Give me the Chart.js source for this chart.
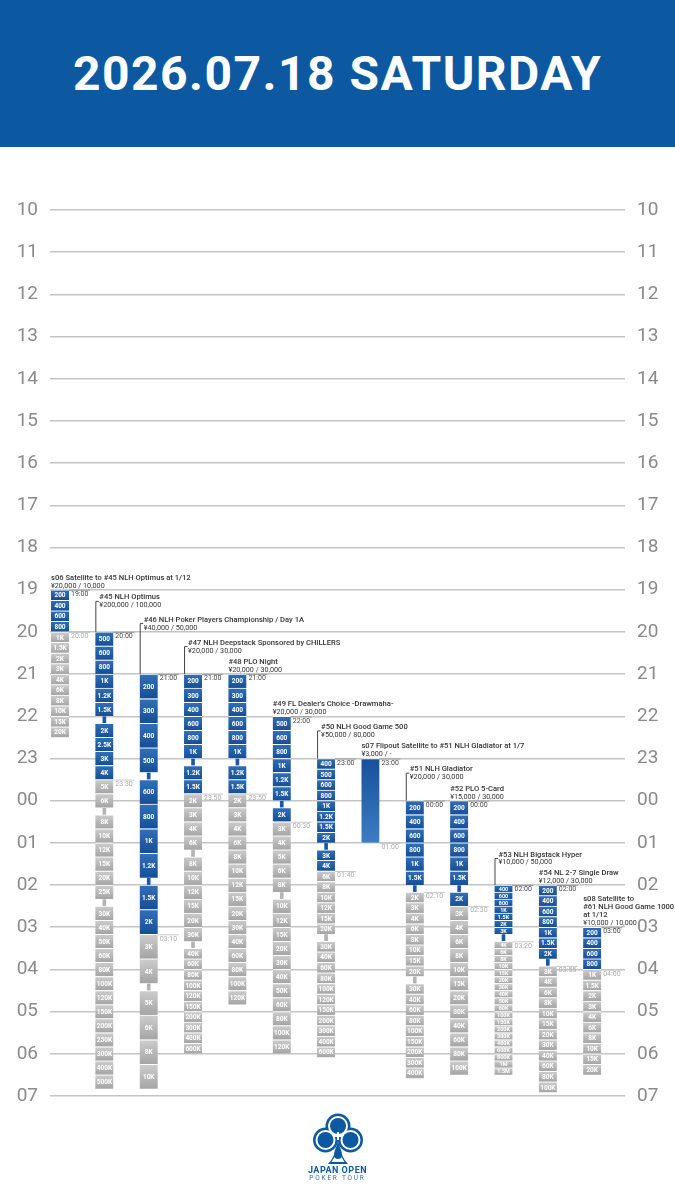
<!DOCTYPE html>
<html>
<head>
<meta charset="utf-8">
<script src="https://cdn.jsdelivr.net/npm/chart.js@4.4.1/dist/chart.umd.min.js"></script>
<style>
  body { margin: 0; background: #fff; width: 675px; height: 1200px; position: relative; overflow: hidden; font-family: Roboto, sans-serif; }
  #head { position: absolute; left: 0; top: 0; width: 675px; height: 147px; background: #0c59a1; color: #fff;
          display: flex; align-items: center; justify-content: center; font-weight: 700; font-size: 48px; letter-spacing: 1.5px; z-index: 2; }
  #wrap { position: absolute; left: 0; top: 0; width: 675px; height: 1200px; }
  #logo { position: absolute; left: 0; top: 1111px; width: 675px; text-align: center; color: #0c59a1; }
  #logo .a { font-weight: 700; font-size: 9px; letter-spacing: 0.5px; margin-top: -4px; }
  #logo .b { font-size: 6.5px; letter-spacing: 1.8px; color: #3a6ea8; margin-top: -1px; }
</style>
</head>
<body>
<div id="head">2026.07.18 SATURDAY</div>
<div id="wrap"><canvas id="chart" width="675" height="1200"></canvas></div>
<div id="logo">
  <svg width="56" height="54" viewBox="-28 -27 56 54">
    <g fill="#0c59a1">
      <circle cx="0" cy="-12" r="12.5"/><circle cx="-12.5" cy="2" r="12.5"/><circle cx="12.5" cy="2" r="12.5"/>
      <path d="M-10 26 Q-2 18 0 2 Q2 18 10 26 Z"/>
    </g>
    <g fill="#fff">
      <circle cx="0" cy="-12" r="10"/><circle cx="-12.5" cy="2" r="10"/><circle cx="12.5" cy="2" r="10"/>
      <path d="M-6.5 24 Q-1 16 0 6 Q1 16 6.5 24 Z"/>
    </g>
    <g fill="#0c59a1">
      <circle cx="0" cy="-12" r="8"/><circle cx="-12.5" cy="2" r="8"/><circle cx="12.5" cy="2" r="8"/>
      <path d="M0 5 Q4 13 4 17 A4 4 0 0 1 -4 17 Q-4 13 0 5 Z"/>
    </g>
    <path d="M-4 -2 H4 M0 -6 V2" stroke="#fff" stroke-width="2"/>
  </svg>
  <div class="a">JAPAN OPEN</div>
  <div class="b">POKER TOUR</div>
</div>
<script>
// events of the day, left to right
const events = ["s06", "#45", "#46", "#47", "#48", "#49", "#50", "s07", "#51", "#52", "#53", "#54", "s08"];
const eventTitles = [
  ["s06 Satellite to #45 NLH Optimus at 1/12"],
  ["#45 NLH Optimus"],
  ["#46 NLH Poker Players Championship / Day 1A"],
  ["#47 NLH Deepstack Sponsored by CHILLERS"],
  ["#48 PLO Night"],
  ["#49 FL Dealer's Choice -Drawmaha-"],
  ["#50 NLH Good Game 500"],
  ["s07 Flipout Satellite to #51 NLH Gladiator at 1/7"],
  ["#51 NLH Gladiator"],
  ["#52 PLO 5-Card"],
  ["#53 NLH Bigstack Hyper"],
  ["#54 NL 2-7 Single Draw"],
  ["s08 Satellite to", "#61 NLH Good Game 1000", "at 1/12"]
];
const buyIns = ["¥20,000 / 10,000", "¥200,000 / 100,000", "¥40,000 / 50,000", "¥20,000 / 30,000", "¥20,000 / 30,000",
  "¥20,000 / 30,000", "¥50,000 / 80,000", "¥3,000 / -", "¥20,000 / 30,000", "¥15,000 / 30,000",
  "¥10,000 / 50,000", "¥12,000 / 30,000", "¥10,000 / 10,000"];

// start hour (24+ = after midnight)
const startHours = [19, 20, 21, 21, 21, 22, 23, 23, 24, 24, 26, 26, 27];

// blind levels, split where a break is taken
const blindSegments = [
  [["200", "400", "600", "800", "1K", "1.5K", "2K", "3K", "4K", "6K", "8K", "10K", "15K", "20K"]],
  [["500", "600", "800", "1K", "1.2K", "1.5K"], ["2K", "2.5K", "3K", "4K", "5K", "6K"],
   ["8K", "10K", "12K", "15K", "20K", "25K"],
   ["30K", "40K", "50K", "60K", "80K", "100K", "120K", "150K", "200K", "250K", "300K", "400K", "500K"]],
  [["200", "300", "400", "500"], ["600", "800", "1K", "1.2K"], ["1.5K", "2K", "3K", "4K"], ["5K", "6K", "8K", "10K"]],
  [["200", "300", "400", "600", "800", "1K"], ["1.2K", "1.5K", "2K", "3K", "4K", "6K"],
   ["8K", "10K", "12K", "15K", "20K", "30K"],
   ["40K", "60K", "80K", "100K", "120K", "150K", "200K", "300K", "400K", "600K"]],
  [["200", "300", "400", "600", "800", "1K"],
   ["1.2K", "1.5K", "2K", "3K", "4K", "6K", "8K", "10K", "12K", "15K", "20K", "30K", "40K", "60K", "80K", "100K", "120K"]],
  [["500", "600", "800", "1K", "1.2K", "1.5K"], ["2K", "3K", "4K", "5K", "6K", "8K"],
   ["10K", "12K", "15K", "20K", "30K", "40K", "50K", "60K", "80K", "100K", "120K"]],
  [["400", "500", "600", "800", "1K", "1.2K", "1.5K", "2K"], ["3K", "4K", "6K", "8K", "10K", "12K", "15K", "20K"],
   ["30K", "40K", "60K", "80K", "100K", "120K", "150K", "200K", "300K", "400K", "600K"]],
  [[""]],
  [["200", "400", "600", "800", "1K", "1.5K"], ["2K", "3K", "4K", "6K", "8K", "10K", "15K", "20K"],
   ["30K", "40K", "60K", "80K", "100K", "150K", "200K", "300K", "400K"]],
  [["200", "400", "600", "800", "1K", "1.5K"],
   ["2K", "3K", "4K", "6K", "8K", "10K", "15K", "20K", "30K", "40K", "60K", "80K", "100K"]],
  [["400", "600", "800", "1K", "1.5K", "2K", "3K"],
   ["4K", "6K", "8K", "10K", "15K", "20K", "30K", "40K", "50K", "80K", "100K", "150K", "200K", "300K", "400K", "600K", "800K", "1M", "1.5M"]],
  [["200", "400", "600", "800", "1K", "1.5K", "2K"],
   ["3K", "4K", "6K", "8K", "10K", "15K", "20K", "30K", "40K", "60K", "80K", "100K"]],
  [["200", "400", "600", "800", "1K", "1.5K", "2K", "3K", "4K", "6K", "8K", "10K", "15K", "20K"]]
];
// minutes per level for each segment
const segmentMinutes = [[15], [20, 20, 20, 20], [35, 35, 35, 35], [20, 20, 20, 15], [20, 20], [20, 20, 20],
  [15, 15, 15], [120], [20, 15, 15], [20, 20], [10, 10], [15, 15], [15]];
// first level played after late registration closes
const lateRegLevel = [4, 10, 10, 8, 8, 7, 10, 1, 6, 7, 7, 7, 4];
const breakMinutes = 10;

const hourLabels = ["10", "11", "12", "13", "14", "15", "16", "17", "18", "19", "20", "21", "22", "23",
  "00", "01", "02", "03", "04", "05", "06", "07"];

// layout only: px the title sits above a bracketed bar (0 = no bracket)
const titleRaise = [0, 31, 51, 28, 0, 0, 28, 0, 28, 0, 27, 0, 0];

const BLUE = "#1b58a3", GRAY = "#b3b3b3";

const blocks = [], breaks = [], closeHours = [];
events.forEach((ev, i) => {
  let t = startHours[i], n = 0, close = null;
  blindSegments[i].forEach((seg, s) => {
    const len = segmentMinutes[i][s] / 60;
    seg.forEach(label => {
      const closed = n >= lateRegLevel[i];
      if (closed && close === null) close = t;
      blocks.push({ x: i, y: [t, t + len], label, closed, long: len > 1 });
      t += len; n++;
    });
    if (s < blindSegments[i].length - 1) {
      breaks.push({ x: i, y: [t, t + breakMinutes / 60], closed: n - 1 >= lateRegLevel[i] });
      t += breakMinutes / 60;
    }
  });
  closeHours.push(close === null ? t : close);
});

function fmt(h) {
  const m = Math.round(h * 60);
  const hh = Math.floor(m / 60) % 24, mm = m % 60;
  return String(hh).padStart(2, "0") + ":" + String(mm).padStart(2, "0");
}

function narrow(ctx, text, x, y, size, weight, color, align, sx) {
  ctx.save();
  ctx.translate(x, y);
  ctx.scale(sx || 0.95, 1);
  ctx.font = weight + " " + size + "px Roboto";
  ctx.fillStyle = color;
  ctx.textAlign = align;
  ctx.textBaseline = "middle";
  ctx.fillText(text, 0, 0);
  ctx.restore();
}

function blockFill(c) {
  const raw = c.raw;
  const flat = raw && raw.closed ? GRAY : BLUE;
  const ys = c.chart.scales.y;
  if (!raw || !ys) return flat;
  const a = ys.getPixelForValue(raw.y[0]), b = ys.getPixelForValue(raw.y[1]);
  if (!isFinite(a) || !isFinite(b) || a === b) return flat;
  const g = c.chart.ctx.createLinearGradient(0, a, 0, b);
  if (raw.long) {
    g.addColorStop(0, "#17509a"); g.addColorStop(1, "#3d7cc6");
  } else if (raw.closed) {
    g.addColorStop(0, "#cdcdcd"); g.addColorStop(1, "#a4a4a4");
  } else {
    g.addColorStop(0, "#3170b8"); g.addColorStop(1, "#154e97");
  }
  return g;
}

function timeMark(ctx, x0, yy, text, color, lineColor) {
  ctx.save();
  ctx.strokeStyle = lineColor; ctx.lineWidth = 1;
  ctx.beginPath(); ctx.moveTo(x0, yy + 0.5); ctx.lineTo(x0 + 21, yy + 0.5); ctx.stroke();
  ctx.restore();
  narrow(ctx, text, x0 + 2, yy + 4.5, 7, 400, color, "left", 1);
}

const annotate = {
  id: "annotate",
  afterDatasetsDraw(chart) {
    const { ctx, scales: { x, y } } = chart;
    chart.getDatasetMeta(0).data.forEach((el, k) => {
      const b = blocks[k];
      if (!b.label) return;
      const top = Math.min(el.y, el.base), h = Math.abs(el.base - el.y);
      narrow(ctx, b.label, el.x, top + h / 2 + 0.5, h < 9 ? 6.2 : 7.4, 700, "#fff", "center", 0.88);
    });
    events.forEach((ev, i) => {
      const cx = x.getPixelForValue(i), left = cx - 9, top = y.getPixelForValue(startHours[i]);
      const lines = eventTitles[i].concat([buyIns[i]]);
      const raise = titleRaise[i];
      let lastY, tx;
      if (raise) {
        lastY = top - raise + 4.5; tx = left + 4;
        ctx.save();
        ctx.strokeStyle = "#444"; ctx.lineWidth = 1;
        ctx.beginPath();
        ctx.moveTo(left + 0.5, top); ctx.lineTo(left + 0.5, top - raise + 0.5); ctx.lineTo(left + 3.5, top - raise + 0.5);
        ctx.stroke();
        ctx.restore();
      } else {
        lastY = top - 4; tx = left;
      }
      lines.forEach((ln, k) => {
        const isBuy = k === lines.length - 1;
        narrow(ctx, ln, tx, lastY - (lines.length - 1 - k) * 8, isBuy ? 7.6 : 8, isBuy ? 400 : 500, "#333", "left");
      });
      timeMark(ctx, cx + 9, top, fmt(startHours[i]), "#444", "#999");
      const cy = y.getPixelForValue(closeHours[i]);
      timeMark(ctx, cx + 9, cy, fmt(closeHours[i]), "#aaa", "#c8c8c8");
    });
  }
};

const tickFont = { family: "Roboto", size: 19 };

const chart = new Chart(document.getElementById("chart"), {
  type: "bar",
  data: {
    datasets: [
      {
        data: blocks, barThickness: 18, grouped: false,
        backgroundColor: blockFill, borderColor: "#fff",
        borderWidth: { top: 1, bottom: 0.5, left: 0, right: 0 }, borderSkipped: false
      },
      {
        data: breaks, barThickness: 3, grouped: false, borderWidth: 0,
        backgroundColor: c => (c.raw && c.raw.closed ? GRAY : BLUE)
      }
    ]
  },
  options: {
    responsive: false,
    animation: false,
    layout: { padding: { top: 210, bottom: 104, left: 0, right: 0 } },
    plugins: { legend: { display: false }, tooltip: { enabled: false } },
    scales: {
      x: { type: "linear", min: -0.2255, max: 12.74, offset: false, display: false, grid: { offset: false } },
      y: {
        min: 10, max: 31, reverse: true,
        ticks: { stepSize: 1, autoSkip: false, padding: 12, color: "#8a8a8a", font: tickFont, callback: v => hourLabels[v - 10] },
        grid: { color: "#c4c4c4", lineWidth: 1.5, drawTicks: false },
        border: { display: false },
        afterFit: s => { s.width = 50; }
      },
      y2: {
        position: "right", min: 10, max: 31, reverse: true,
        ticks: { stepSize: 1, autoSkip: false, padding: 12, color: "#8a8a8a", font: tickFont, callback: v => hourLabels[v - 10] },
        grid: { display: false, drawTicks: false },
        border: { display: false },
        afterFit: s => { s.width = 50; }
      }
    }
  },
  plugins: [annotate]
});
chart.update();
</script>
</body>
</html>
